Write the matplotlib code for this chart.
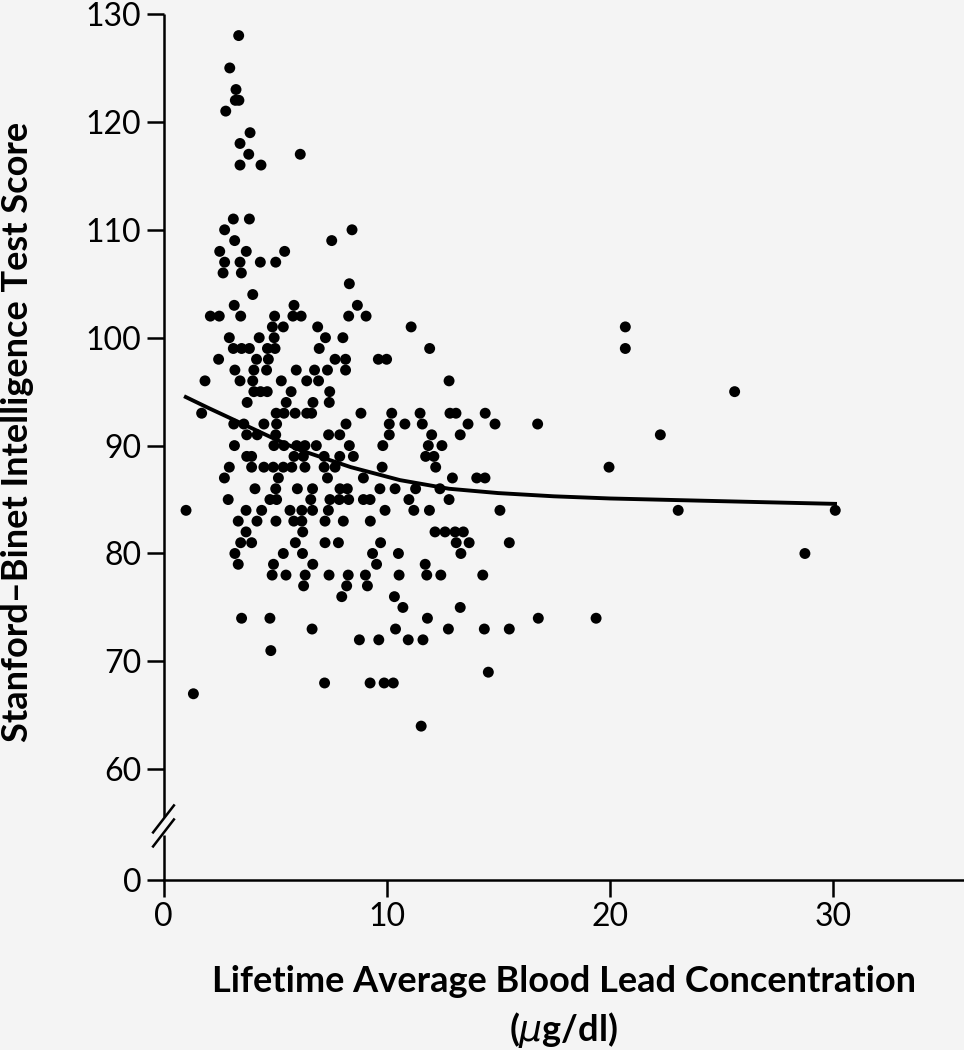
import matplotlib
matplotlib.use("Agg")
import matplotlib.pyplot as plt
import numpy as np

plt.rcParams['font.family'] = ['Lato', 'DejaVu Sans']

# IQ score (rows) and blood lead values of the children at that score
score_rows = [128, 125, 123, 122, 121, 119, 118, 117, 116, 111, 110, 109, 108, 107,
              106, 105, 104, 103, 102, 101, 100, 99, 98, 97, 96, 95, 94, 93, 92,
              91, 90, 89, 88, 87, 86, 85, 84, 83, 82, 81, 80, 79, 78, 77, 76, 75,
              74, 73, 72, 71, 69, 68, 67, 64]
lead_by_row = [
    [3.37],
    [2.97],
    [3.25],
    [3.22, 3.38],
    [2.79],
    [3.88],
    [3.43],
    [3.82, 6.13],
    [3.43, 4.37],
    [3.13, 3.85],
    [2.74, 8.45],
    [3.19, 7.54],
    [2.52, 3.71, 5.43],
    [2.74, 3.43, 4.34, 5.03],
    [2.67, 3.49],
    [8.33],
    [4.0],
    [3.17, 5.85, 8.69],
    [2.1, 2.5, 3.46, 4.98, 5.8, 6.17, 8.3, 9.08],
    [4.88, 5.37, 6.91, 11.1, 20.7],
    [2.95, 4.29, 4.96, 7.26, 8.04],
    [3.13, 3.5, 3.85, 4.66, 5.0, 6.98, 11.93, 20.7],
    [2.47, 4.17, 4.7, 7.69, 8.16, 9.63, 10.0],
    [3.2, 4.05, 4.62, 5.95, 6.77, 7.35, 8.16],
    [1.86, 3.43, 4.0, 5.28, 6.42, 6.95, 12.8],
    [4.05, 4.35, 4.65, 5.72, 7.45, 25.6],
    [3.75, 5.5, 6.7, 7.43],
    [1.71, 5.05, 5.4, 5.9, 6.42, 6.64, 8.85, 10.23, 11.5, 12.84, 13.11, 14.42],
    [3.15, 3.6, 4.5, 5.07, 8.18, 10.12, 10.82, 11.6, 13.65, 14.86, 16.77],
    [3.73, 4.2, 5.03, 7.4, 7.9, 10.12, 12.02, 13.3, 22.27],
    [3.18, 4.95, 5.4, 5.97, 6.34, 6.85, 8.33, 9.83, 11.87, 12.48],
    [3.73, 3.95, 5.85, 6.27, 7.2, 7.9, 8.51, 11.75, 12.12],
    [2.95, 3.95, 4.5, 4.92, 5.37, 5.75, 6.34, 7.2, 7.69, 9.8, 12.2, 19.97],
    [2.73, 5.15, 7.35, 8.96, 12.95, 14.04, 14.41],
    [4.1, 5.03, 6.0, 6.68, 7.91, 8.24, 9.7, 10.38, 11.3, 12.39],
    [2.9, 4.77, 5.07, 6.6, 7.46, 7.88, 8.3, 8.96, 9.26, 11.0, 12.8],
    [1.01, 3.7, 4.4, 5.67, 6.2, 6.68, 7.39, 9.93, 11.22, 11.92, 15.08, 23.07, 30.11],
    [3.35, 4.19, 5.04, 5.84, 6.2, 7.24, 8.06, 9.27],
    [3.7, 6.24, 12.17, 12.62, 13.07, 13.44],
    [3.46, 3.95, 5.91, 7.24, 7.84, 9.73, 13.12, 13.7, 15.5],
    [3.2, 5.37, 6.23, 9.37, 10.53, 13.33, 28.75],
    [3.35, 4.93, 6.69, 9.55, 11.73],
    [4.87, 5.49, 6.35, 7.42, 8.28, 9.05, 10.56, 11.8, 12.43, 14.31],
    [6.28, 8.21, 9.14],
    [7.99, 10.35],
    [10.73, 13.3],
    [3.5, 4.77, 11.83, 16.8, 19.39],
    [6.66, 10.4, 12.77, 14.38, 15.5],
    [8.78, 9.65, 10.97, 11.63],
    [4.81],
    [14.56],
    [7.22, 9.26, 9.89, 10.3],
    [1.34],
    [11.55],
]

# fitted curve
fit_lead = [1.0, 2.0, 3.35, 5.0, 6.1, 8.4, 10.6, 12.8, 15.0, 17.5, 20.0, 24.0, 27.0, 30.1]
fit_iq = [94.5, 93.5, 92.2, 90.6, 89.6, 88.0, 86.8, 86.0, 85.6, 85.3, 85.1, 84.9, 84.75, 84.6]

xticks = [0, 10, 20, 30]
yticks = [60, 70, 80, 90, 100, 110, 120, 130]
y_zero = 49.74   # where the "0" sits below the axis break

lead = []
iq = []
for s, xs in zip(score_rows, lead_by_row):
    for v in xs:
        lead.append(v)
        iq.append(s)

bg = '#f4f4f4'
fig = plt.figure(figsize=(9.64, 10.5), dpi=100, facecolor=bg)
ax = fig.add_axes([163.5/964, 1-880/1050, (964-163.5)/964, (880-14)/1050])
ax.set_facecolor(bg)

ax.scatter(lead, iq, s=62, color='black', edgecolors='none', zorder=3)
ax.plot(fit_lead, fit_iq, color='black', lw=2.8, zorder=4)

ax.set_xlim(0, (964-163.5)/22.31)
ax.set_ylim(y_zero, 130)

ax.set_xticks(xticks)
ax.set_yticks([y_zero] + yticks)
ax.set_yticklabels(['0'] + [str(t) for t in yticks])
ax.tick_params(axis='both', direction='out', length=12, width=1.8, labelsize=23, color='black')
ax.tick_params(axis='y', pad=4)
ax.tick_params(axis='x', pad=4)

for side in ['top', 'right', 'left']:
    ax.spines[side].set_visible(False)
ax.spines['bottom'].set_linewidth(1.8)

# left spine drawn in two parts with a break
tr = ax.get_yaxis_transform()
ax.plot([0, 0], [y_zero, 53.9], color='black', lw=1.8, transform=tr, clip_on=False, solid_capstyle='butt')
ax.plot([0, 0], [55.6, 130], color='black', lw=1.8, transform=tr, clip_on=False, solid_capstyle='butt')
for yc in [54.1, 55.4]:
    ax.plot([-0.013, 0.013], [yc - 1.25, yc + 1.25], color='black', lw=1.8,
            transform=tr, clip_on=False)

fig.text(18/964, 1-432/1050, 'Stanford–Binet Intelligence Test Score', rotation=90,
         ha='center', va='center', fontsize=26, fontweight='bold')
fig.text(563.5/964, 1-982/1050, 'Lifetime Average Blood Lead Concentration',
         ha='center', va='center', fontsize=26, fontweight='bold')
fig.text(563.5/964, 1-1030/1050, '($\\mu$g/dl)',
         ha='center', va='center', fontsize=26, fontweight='bold')

fig.savefig('out.png', dpi=100, facecolor=bg)
